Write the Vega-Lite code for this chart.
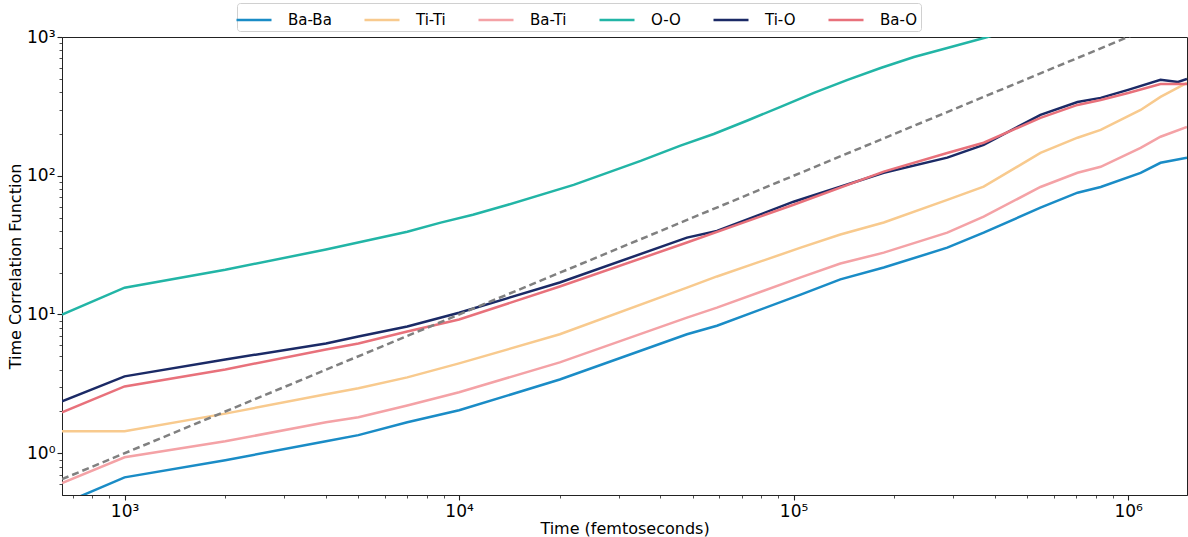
{
  "$schema": "https://vega.github.io/schema/vega-lite/v6.json",
  "width": 1125,
  "height": 458,
  "autosize": "none",
  "padding": {"left": 62, "top": 37, "right": 1, "bottom": 42},
  "background": "white",
  "config": {
    "font": "DejaVu Sans",
    "view": {"stroke": "#222222", "strokeWidth": 1},
    "axis": {
      "grid": false,
      "domainColor": "#222222",
      "tickColor": "#222222",
      "labelColor": "#000000",
      "titleColor": "#000000",
      "labelFont": "DejaVu Sans",
      "titleFont": "DejaVu Sans",
      "labelFontSize": 17,
      "titleFontSize": 16,
      "titleFontWeight": "normal"
    },
    "legend": {
      "orient": "none",
      "legendX": 175,
      "legendY": -34,
      "direction": "horizontal",
      "symbolType": "M-1.4,0H1.4",
      "symbolSize": 625,
      "symbolStrokeWidth": 2.5,
      "labelFont": "DejaVu Sans",
      "labelFontSize": 15,
      "labelColor": "#000000",
      "labelOffset": 20,
      "columnPadding": 27,
      "padding": 3,
      "strokeColor": "#d0d0d0",
      "cornerRadius": 3,
      "fillColor": "white"
    }
  },
  "datasets": {
    "curves": [
      {"series": "Ba-Ba", "t": 650, "v": 0.43},
      {"series": "Ba-Ba", "t": 1000, "v": 0.67},
      {"series": "Ba-Ba", "t": 2000, "v": 0.89},
      {"series": "Ba-Ba", "t": 4000, "v": 1.22},
      {"series": "Ba-Ba", "t": 5000, "v": 1.35},
      {"series": "Ba-Ba", "t": 7000, "v": 1.67},
      {"series": "Ba-Ba", "t": 10000, "v": 2.04},
      {"series": "Ba-Ba", "t": 20000, "v": 3.4},
      {"series": "Ba-Ba", "t": 48000, "v": 7.2},
      {"series": "Ba-Ba", "t": 59000, "v": 8.3},
      {"series": "Ba-Ba", "t": 105000, "v": 13.9},
      {"series": "Ba-Ba", "t": 138000, "v": 17.9},
      {"series": "Ba-Ba", "t": 186000, "v": 21.8},
      {"series": "Ba-Ba", "t": 288000, "v": 30.3},
      {"series": "Ba-Ba", "t": 370000, "v": 38.9},
      {"series": "Ba-Ba", "t": 547000, "v": 58.9},
      {"series": "Ba-Ba", "t": 706000, "v": 75.5},
      {"series": "Ba-Ba", "t": 828000, "v": 83},
      {"series": "Ba-Ba", "t": 1090000, "v": 105},
      {"series": "Ba-Ba", "t": 1250000, "v": 124},
      {"series": "Ba-Ba", "t": 1500000, "v": 135},
      {"series": "Ti-Ti", "t": 650, "v": 1.44},
      {"series": "Ti-Ti", "t": 1000, "v": 1.44},
      {"series": "Ti-Ti", "t": 2000, "v": 1.93},
      {"series": "Ti-Ti", "t": 4000, "v": 2.66},
      {"series": "Ti-Ti", "t": 5000, "v": 2.94},
      {"series": "Ti-Ti", "t": 7000, "v": 3.52},
      {"series": "Ti-Ti", "t": 10000, "v": 4.44},
      {"series": "Ti-Ti", "t": 20000, "v": 7.2},
      {"series": "Ti-Ti", "t": 48000, "v": 15.6},
      {"series": "Ti-Ti", "t": 59000, "v": 18.8},
      {"series": "Ti-Ti", "t": 105000, "v": 30.3},
      {"series": "Ti-Ti", "t": 138000, "v": 37.7},
      {"series": "Ti-Ti", "t": 186000, "v": 46},
      {"series": "Ti-Ti", "t": 288000, "v": 67},
      {"series": "Ti-Ti", "t": 370000, "v": 83.4},
      {"series": "Ti-Ti", "t": 547000, "v": 146},
      {"series": "Ti-Ti", "t": 706000, "v": 188},
      {"series": "Ti-Ti", "t": 828000, "v": 214},
      {"series": "Ti-Ti", "t": 1090000, "v": 298},
      {"series": "Ti-Ti", "t": 1250000, "v": 370},
      {"series": "Ti-Ti", "t": 1500000, "v": 467},
      {"series": "Ba-Ti", "t": 650, "v": 0.61},
      {"series": "Ba-Ti", "t": 1000, "v": 0.935},
      {"series": "Ba-Ti", "t": 2000, "v": 1.22},
      {"series": "Ba-Ti", "t": 4000, "v": 1.67},
      {"series": "Ba-Ti", "t": 5000, "v": 1.82},
      {"series": "Ba-Ti", "t": 7000, "v": 2.21},
      {"series": "Ba-Ti", "t": 10000, "v": 2.75},
      {"series": "Ba-Ti", "t": 20000, "v": 4.52},
      {"series": "Ba-Ti", "t": 48000, "v": 9.5},
      {"series": "Ba-Ti", "t": 59000, "v": 11.2},
      {"series": "Ba-Ti", "t": 105000, "v": 18.5},
      {"series": "Ba-Ti", "t": 138000, "v": 23.3},
      {"series": "Ba-Ti", "t": 186000, "v": 27.9},
      {"series": "Ba-Ti", "t": 288000, "v": 38.9},
      {"series": "Ba-Ti", "t": 370000, "v": 50.7},
      {"series": "Ba-Ti", "t": 547000, "v": 83},
      {"series": "Ba-Ti", "t": 706000, "v": 105},
      {"series": "Ba-Ti", "t": 828000, "v": 116},
      {"series": "Ba-Ti", "t": 1090000, "v": 159},
      {"series": "Ba-Ti", "t": 1250000, "v": 191},
      {"series": "Ba-Ti", "t": 1500000, "v": 225},
      {"series": "O-O", "t": 650, "v": 10},
      {"series": "O-O", "t": 1000, "v": 15.6},
      {"series": "O-O", "t": 2000, "v": 21},
      {"series": "O-O", "t": 4000, "v": 29.4},
      {"series": "O-O", "t": 7000, "v": 39.5},
      {"series": "O-O", "t": 8810, "v": 45.9},
      {"series": "O-O", "t": 11000, "v": 52.4},
      {"series": "O-O", "t": 14000, "v": 61.8},
      {"series": "O-O", "t": 22000, "v": 86},
      {"series": "O-O", "t": 34900, "v": 128},
      {"series": "O-O", "t": 45900, "v": 165},
      {"series": "O-O", "t": 57700, "v": 200},
      {"series": "O-O", "t": 72800, "v": 250},
      {"series": "O-O", "t": 91400, "v": 314},
      {"series": "O-O", "t": 115000, "v": 395},
      {"series": "O-O", "t": 145000, "v": 491},
      {"series": "O-O", "t": 182000, "v": 598},
      {"series": "O-O", "t": 229000, "v": 718},
      {"series": "O-O", "t": 288000, "v": 833},
      {"series": "O-O", "t": 380000, "v": 1000},
      {"series": "O-O", "t": 700000, "v": 1600},
      {"series": "O-O", "t": 1500000, "v": 2800},
      {"series": "Ti-O", "t": 650, "v": 2.37},
      {"series": "Ti-O", "t": 1000, "v": 3.58},
      {"series": "Ti-O", "t": 2000, "v": 4.74},
      {"series": "Ti-O", "t": 4000, "v": 6.18},
      {"series": "Ti-O", "t": 5000, "v": 6.95},
      {"series": "Ti-O", "t": 7000, "v": 8.2},
      {"series": "Ti-O", "t": 10000, "v": 10.3},
      {"series": "Ti-O", "t": 20000, "v": 17},
      {"series": "Ti-O", "t": 48000, "v": 35.8},
      {"series": "Ti-O", "t": 59000, "v": 40},
      {"series": "Ti-O", "t": 100000, "v": 65},
      {"series": "Ti-O", "t": 186000, "v": 105},
      {"series": "Ti-O", "t": 288000, "v": 135},
      {"series": "Ti-O", "t": 370000, "v": 167},
      {"series": "Ti-O", "t": 547000, "v": 275},
      {"series": "Ti-O", "t": 706000, "v": 340},
      {"series": "Ti-O", "t": 828000, "v": 364},
      {"series": "Ti-O", "t": 1000000, "v": 416},
      {"series": "Ti-O", "t": 1250000, "v": 491},
      {"series": "Ti-O", "t": 1410000, "v": 474},
      {"series": "Ti-O", "t": 1500000, "v": 499},
      {"series": "Ba-O", "t": 650, "v": 1.97},
      {"series": "Ba-O", "t": 1000, "v": 3.03},
      {"series": "Ba-O", "t": 2000, "v": 4.02},
      {"series": "Ba-O", "t": 4000, "v": 5.6},
      {"series": "Ba-O", "t": 5000, "v": 6.18},
      {"series": "Ba-O", "t": 7000, "v": 7.55},
      {"series": "Ba-O", "t": 10000, "v": 9.2},
      {"series": "Ba-O", "t": 20000, "v": 15.9},
      {"series": "Ba-O", "t": 48000, "v": 33},
      {"series": "Ba-O", "t": 100000, "v": 61.8},
      {"series": "Ba-O", "t": 186000, "v": 107},
      {"series": "Ba-O", "t": 288000, "v": 146},
      {"series": "Ba-O", "t": 370000, "v": 173},
      {"series": "Ba-O", "t": 547000, "v": 261},
      {"series": "Ba-O", "t": 706000, "v": 324},
      {"series": "Ba-O", "t": 828000, "v": 352},
      {"series": "Ba-O", "t": 1000000, "v": 395},
      {"series": "Ba-O", "t": 1250000, "v": 459},
      {"series": "Ba-O", "t": 1500000, "v": 459}
    ],
    "reference": [
      {"t": 650, "v": 0.65},
      {"t": 1500000, "v": 1500}
    ]
  },
  "layer": [
    {
      "data": {"name": "curves"},
      "mark": {"type": "line", "strokeWidth": 2.5, "clip": true},
      "encoding": {
        "x": {
          "field": "t",
          "type": "quantitative",
          "title": "Time (femtoseconds)",
          "scale": {"type": "log", "domain": [650, 1500000], "nice": false},
          "axis": {
            "values": [700, 800, 900, 1000, 2000, 3000, 4000, 5000, 6000, 7000, 8000, 9000, 10000, 20000, 30000, 40000, 50000, 60000, 70000, 80000, 90000, 100000, 200000, 300000, 400000, 500000, 600000, 700000, 800000, 900000, 1000000],
            "labelExpr": "abs(log(datum.value)/LN10 - round(log(datum.value)/LN10)) < 0.000001 ? '10' + ['⁰','¹','²','³','⁴','⁵','⁶'][round(log(datum.value)/LN10)] : ''",
            "tickSize": {"condition": {"test": "abs(log(datum.value)/LN10 - round(log(datum.value)/LN10)) < 0.000001", "value": 5}, "value": 3},
            "tickWidth": {"condition": {"test": "abs(log(datum.value)/LN10 - round(log(datum.value)/LN10)) < 0.000001", "value": 1.1}, "value": 0.8},
            "labelPadding": 3,
            "titlePadding": 1,
            "labelFlush": false,
            "labelOverlap": false
          }
        },
        "y": {
          "field": "v",
          "type": "quantitative",
          "title": "Time Correlation Function",
          "scale": {"type": "log", "domain": [0.5, 1000], "nice": false},
          "axis": {
            "values": [0.6, 0.7, 0.8, 0.9, 1, 2, 3, 4, 5, 6, 7, 8, 9, 10, 20, 30, 40, 50, 60, 70, 80, 90, 100, 200, 300, 400, 500, 600, 700, 800, 900, 1000],
            "labelExpr": "abs(log(datum.value)/LN10 - round(log(datum.value)/LN10)) < 0.000001 ? '10' + ['⁰','¹','²','³','⁴','⁵','⁶'][round(log(datum.value)/LN10)] : ''",
            "tickSize": {"condition": {"test": "abs(log(datum.value)/LN10 - round(log(datum.value)/LN10)) < 0.000001", "value": 5}, "value": 3},
            "tickWidth": {"condition": {"test": "abs(log(datum.value)/LN10 - round(log(datum.value)/LN10)) < 0.000001", "value": 1.1}, "value": 0.8},
            "labelPadding": 2,
            "titlePadding": 3,
            "labelFlush": false,
            "labelOverlap": false
          }
        },
        "color": {
          "field": "series",
          "type": "nominal",
          "title": null,
          "sort": ["Ba-Ba", "Ti-Ti", "Ba-Ti", "O-O", "Ti-O", "Ba-O"],
          "scale": {
            "domain": ["Ba-Ba", "Ti-Ti", "Ba-Ti", "O-O", "Ti-O", "Ba-O"],
            "range": ["#1a8cc6", "#f8ca8e", "#f4a2a6", "#22b5a6", "#1b2a66", "#e8717b"]
          }
        }
      }
    },
    {
      "data": {"name": "reference"},
      "mark": {"type": "line", "strokeWidth": 2.5, "strokeDash": [7, 4], "color": "#808080", "clip": true},
      "encoding": {
        "x": {"field": "t", "type": "quantitative"},
        "y": {"field": "v", "type": "quantitative"}
      }
    }
  ]
}
